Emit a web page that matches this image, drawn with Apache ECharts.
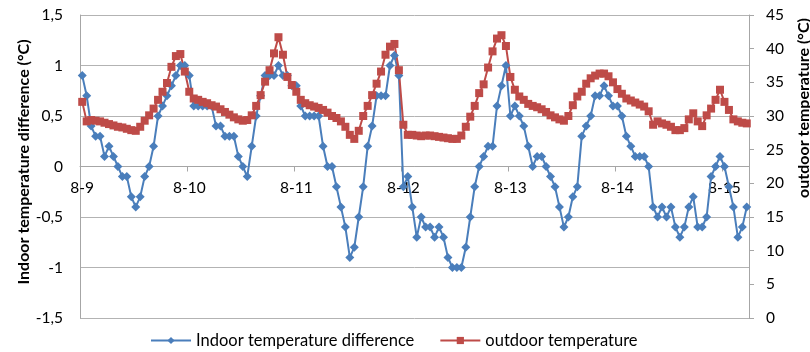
<!DOCTYPE html>
<html>
<head>
<meta charset="utf-8">
<script src="https://cdn.jsdelivr.net/npm/echarts@6/dist/echarts.min.js"></script>
<style>
html,body{margin:0;padding:0;background:#fff;}
#chart{width:810px;height:352px;}
</style>
</head>
<body>
<div id="chart"></div>
<script>
// Day labels on the x axis (hourly readings, 24 per day)
const dayLabels = ['8-9', '8-10', '8-11', '8-12', '8-13', '8-14', '8-15'];
const hoursPerDay = 24;

// Indoor temperature difference (°C), left axis
const indoorDiff = [
  0.9, 0.7, 0.4, 0.3, 0.3, 0.1, 0.2, 0.1, 0.0, -0.1,
  -0.1, -0.3, -0.4, -0.3, -0.1, 0.0, 0.2, 0.5, 0.6, 0.7,
  0.8, 0.9, 1.0, 1.0, 0.9, 0.6, 0.6, 0.6, 0.6, 0.6,
  0.4, 0.4, 0.3, 0.3, 0.3, 0.1, 0.0, -0.1, 0.2, 0.5,
  0.7, 0.9, 0.9, 0.9, 1.0, 0.9, 0.9, 0.8, 0.8, 0.6,
  0.5, 0.5, 0.5, 0.5, 0.2, 0.0, 0.0, -0.2, -0.4, -0.6,
  -0.9, -0.8, -0.5, -0.2, 0.2, 0.4, 0.7, 0.7, 0.7, 1.0,
  1.1, 0.9, -0.2, -0.1, -0.4, -0.7, -0.5, -0.6, -0.6, -0.7,
  -0.6, -0.7, -0.9, -1.0, -1.0, -1.0, -0.8, -0.5, -0.2, 0.0,
  0.1, 0.2, 0.2, 0.6, 0.8, 1.0, 0.5, 0.6, 0.5, 0.4,
  0.2, 0.0, 0.1, 0.1, 0.0, -0.1, -0.2, -0.4, -0.6, -0.5,
  -0.3, -0.2, 0.3, 0.4, 0.5, 0.7, 0.7, 0.8, 0.7, 0.6,
  0.6, 0.5, 0.3, 0.2, 0.1, 0.1, 0.1, 0.0, -0.4, -0.5,
  -0.4, -0.5, -0.4, -0.6, -0.7, -0.6, -0.4, -0.3, -0.6, -0.6,
  -0.5, -0.1, 0.0, 0.1, 0.0, -0.2, -0.4, -0.7, -0.6, -0.4
];

// Outdoor temperature (°C), right axis
const outdoorTemp = [
  32.1, 29.2, 29.4, 29.3, 29.2, 29.0, 28.8, 28.6, 28.4, 28.3,
  28.1, 27.9, 27.8, 28.4, 29.3, 30.1, 31.1, 32.4, 33.6, 34.9,
  37.3, 38.9, 39.2, 36.6, 33.6, 32.6, 32.4, 32.1, 31.9, 31.6,
  31.4, 31.0, 30.6, 30.2, 29.8, 29.5, 29.3, 29.4, 30.1, 31.5,
  33.1, 35.1, 36.8, 39.3, 41.7, 39.1, 35.8, 34.6, 33.6, 32.4,
  31.9, 31.6, 31.4, 31.2, 30.9, 30.5, 30.0, 29.7, 29.2, 28.4,
  27.2, 26.6, 27.8, 30.0, 31.5, 33.1, 34.8, 36.6, 39.1, 40.3,
  40.7, 36.8, 28.7, 27.2, 27.2, 27.1, 27.0, 27.1, 27.1, 27.0,
  26.9, 26.8, 26.7, 26.6, 26.6, 27.1, 28.4, 29.9, 31.5, 33.4,
  34.7, 37.2, 39.6, 41.5, 42.0, 40.4, 35.8, 33.9, 32.9, 32.4,
  31.8, 31.5, 31.3, 31.0, 30.6, 30.1, 29.8, 29.5, 29.3, 30.0,
  31.6, 32.9, 33.6, 34.8, 35.6, 36.0, 36.3, 36.3, 35.9, 35.0,
  34.0, 33.3, 32.6, 32.3, 32.0, 31.7, 31.4, 30.7, 28.7, 29.2,
  28.9, 28.7, 28.4, 27.9, 27.9, 28.2, 29.5, 30.4, 29.2, 28.5,
  30.1, 31.1, 32.4, 33.9, 32.1, 30.9, 29.5, 29.2, 29.0, 28.9
];

// Axis ranges / ticks
const leftAxis = { min: -1.5, max: 1.5, interval: 0.5 };
const rightAxis = { min: 0, max: 45, interval: 5 };

const seriesNames = ['Indoor temperature difference', 'outdoor temperature'];
const titles = { left: 'Indoor temperature difference (°C)', right: 'outdoor temperature (°C)' };

const categories = indoorDiff.map((_, i) =>
  dayLabels[Math.floor(i / hoursPerDay)] + ' ' + (i % hoursPerDay) + ':00');

const FONT = 'Lato, "Open Sans", sans-serif';
const gridColor = '#b3b3b3';
const axisColor = '#a6a6a6';
const blue = '#4A7EBB';
const red = '#BE4B48';

const GRID = { left: 80, right: 61, top: 15, bottom: 34 };
const plotHeight = 352 - GRID.top - GRID.bottom;
// x axis sits on the zero line of the left axis
const zeroOffset = -plotHeight * (0 - leftAxis.min) / (leftAxis.max - leftAxis.min);

const chart = echarts.init(document.getElementById('chart'), null, { renderer: 'canvas' });
chart.setOption({
  animation: false,
  backgroundColor: '#fff',
  textStyle: { fontFamily: FONT },
  grid: Object.assign({ containLabel: false }, GRID),
  legend: {
    left: 145, top: 327, padding: 5,
    itemWidth: 40, itemHeight: 9, itemGap: 25,
    textStyle: { fontFamily: FONT, fontSize: 16.5, color: '#000' },
    data: seriesNames
  },
  xAxis: {
    type: 'category',
    data: categories,
    boundaryGap: true,
    position: 'bottom',
    offset: zeroOffset,
    axisLine: { onZero: false, lineStyle: { color: axisColor, width: 1 } },
    axisTick: { show: true, interval: hoursPerDay - 1, length: 5, lineStyle: { color: axisColor } },
    axisLabel: {
      interval: hoursPerDay - 1, margin: 13,
      fontFamily: FONT, fontSize: 15.5, color: '#000',
      formatter: v => v.split(' ')[0]
    },
    splitLine: { show: false }
  },
  yAxis: [
    {
      type: 'value', position: 'left',
      min: leftAxis.min, max: leftAxis.max, interval: leftAxis.interval,
      axisLine: { show: true, onZero: false, lineStyle: { color: axisColor } },
      axisTick: { show: false },
      axisLabel: {
        margin: 17, fontFamily: FONT, fontSize: 15.5, color: '#000',
        formatter: v => String(Math.round(v * 10) / 10).replace('.', ',')
      },
      splitLine: { show: true, lineStyle: { color: gridColor, width: 1 } }
    },
    {
      type: 'value', position: 'right',
      min: rightAxis.min, max: rightAxis.max, interval: rightAxis.interval,
      axisLine: { show: true, onZero: false, lineStyle: { color: axisColor } },
      axisTick: { show: true, length: 5, lineStyle: { color: axisColor } },
      axisLabel: { margin: 17, fontFamily: FONT, fontSize: 15.5, color: '#000' },
      splitLine: { show: false }
    }
  ],
  graphic: [
    {
      type: 'text', x: 24, y: 162, rotation: Math.PI / 2,
      style: {
        text: titles.left, font: 'bold 16px ' + FONT, fill: '#000',
        textAlign: 'center', textVerticalAlign: 'middle', align: 'center', verticalAlign: 'middle'
      }
    },
    {
      type: 'text', x: 804, y: 108, rotation: Math.PI / 2,
      style: {
        text: titles.right, font: 'bold 16px ' + FONT, fill: '#000',
        textAlign: 'center', textVerticalAlign: 'middle', align: 'center', verticalAlign: 'middle'
      }
    }
  ],
  series: [
    {
      name: seriesNames[0], type: 'line', yAxisIndex: 0,
      data: indoorDiff,
      symbol: 'diamond', symbolSize: 9, showAllSymbol: true,
      lineStyle: { color: blue, width: 2 },
      itemStyle: { color: blue },
      emphasis: { disabled: true }
    },
    {
      name: seriesNames[1], type: 'line', yAxisIndex: 1,
      data: outdoorTemp,
      symbol: 'rect', symbolSize: 8, showAllSymbol: true,
      lineStyle: { color: red, width: 2 },
      itemStyle: { color: red },
      emphasis: { disabled: true }
    }
  ]
});
</script>
</body>
</html>
